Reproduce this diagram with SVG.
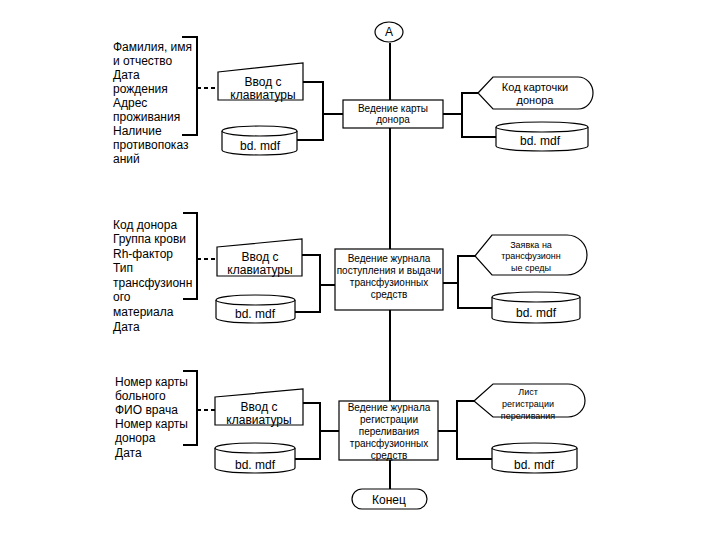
<svg xmlns="http://www.w3.org/2000/svg" width="720" height="540" viewBox="0 0 720 540">
<style>
.sh{fill:#fff;stroke:#000;stroke-width:1.2}
.ln{fill:none;stroke:#000;stroke-width:2}
.ds{fill:none;stroke:#000;stroke-width:2;stroke-dasharray:4,3}
text{font-family:"Liberation Sans",Arial,sans-serif;fill:#000}
.l{font-size:12px}
.c{text-anchor:middle}
.s{font-size:10px}
.m{font-size:12px}
.xs{font-size:9px}
</style>
<rect width="720" height="540" fill="#fff"/>
<g id="connectors">
<path class="ln" d="M390 43V100M390 128V249M390 310V401M390 460V489"/>
<path class="ln" d="M182 37H197V135H182"/>
<path class="ds" d="M197 88H218"/>
<path class="ln" d="M303 82H323V140H297M323 114H345"/>
<path class="ln" d="M443 114H462M478 93H462V137H496"/>
<path class="ln" d="M183 213H197V299H183"/>
<path class="ds" d="M197 259H217"/>
<path class="ln" d="M302 255H320V312H295M320 285H335"/>
<path class="ln" d="M443 283H458M475 256H458V308H492"/>
<path class="ln" d="M183 371H197V445H183"/>
<path class="ds" d="M197 410H215"/>
<path class="ln" d="M303 403H320V459H295M320 431H339"/>
<path class="ln" d="M438 431H457M474 401H457V459H492"/>
</g>
<g id="connA">
<ellipse class="sh" cx="389" cy="32" rx="14" ry="10"/>
<text class="m c" x="389" y="36">A</text>
</g>
<g id="data1">
<text class="l" x="113"><tspan x="113" y="51">Фамилия, имя</tspan><tspan x="113" y="65">и отчество</tspan><tspan x="113" y="79">Дата</tspan><tspan x="113" y="93">рождения</tspan><tspan x="113" y="107">Адрес</tspan><tspan x="113" y="121">проживания</tspan><tspan x="113" y="135">Наличие</tspan><tspan x="113" y="149">противопоказ</tspan><tspan x="113" y="163">аний</tspan></text>
</g>
<g id="input1">
<path class="sh" d="M218 72L303 63V100H218Z"/>
<text class="m c" x="263" y="86">Ввод с</text>
<text class="m c" x="263" y="99">клавиатуры</text>
</g>
<g id="db1">
<path class="sh" d="M222 131V150A37.5 5 0 0 0 297 150V131A37.5 5 0 0 0 222 131Z"/>
<path class="sh" d="M222 131A37.5 5 0 0 0 297 131"/>
<text class="m c" x="260" y="150">bd. mdf</text>
</g>
<g id="proc1">
<rect class="sh" x="343" y="100" width="100" height="28"/>
<text class="s c" x="393" y="112">Ведение карты</text>
<text class="s c" x="393" y="123">донора</text>
</g>
<g id="out1">
<path class="sh" d="M478 93L493 77H578A15 16 0 0 1 578 109H493Z"/>
<text class="s c" x="535" y="91" style="font-size:11px">Код карточки</text>
<text class="s c" x="535" y="104" style="font-size:11px">донора</text>
</g>
<g id="db2">
<path class="sh" d="M496 127V146A46 5 0 0 0 588 146V127A46 5 0 0 0 496 127Z"/>
<path class="sh" d="M496 127A46 5 0 0 0 588 127"/>
<text class="m c" x="540" y="145">bd. mdf</text>
</g>
<g id="data2">
<text class="l"><tspan x="113" y="229">Код донора</tspan><tspan x="113" y="243">Группа крови</tspan><tspan x="113" y="258">Rh-фактор</tspan><tspan x="113" y="272">Тип</tspan><tspan x="113" y="287">трансфузионн</tspan><tspan x="113" y="301">ого</tspan><tspan x="113" y="316">материала</tspan><tspan x="113" y="331">Дата</tspan></text>
</g>
<g id="input2">
<path class="sh" d="M217 247L302 239V276H217Z"/>
<text class="m c" x="260" y="261">Ввод с</text>
<text class="m c" x="260" y="274">клавиатуры</text>
</g>
<g id="db3">
<path class="sh" d="M216 300V318A39.5 5 0 0 0 295 318V300A39.5 5 0 0 0 216 300Z"/>
<path class="sh" d="M216 300A39.5 5 0 0 0 295 300"/>
<text class="m c" x="255" y="318">bd. mdf</text>
</g>
<g id="proc2">
<rect class="sh" x="335" y="249" width="108" height="61"/>
<text class="s c" x="389" y="262">Ведение журнала</text>
<text class="s c" x="389" y="274">поступления и выдачи</text>
<text class="s c" x="389" y="286">трансфузионных</text>
<text class="s c" x="389" y="298">средств</text>
</g>
<g id="out2">
<path class="sh" d="M475 256L492 235H567A20 20 0 0 1 567 275H492Z"/>
<text class="xs c" x="531" y="248">Заявка на</text>
<text class="xs c" x="531" y="259">трансфузионн</text>
<text class="xs c" x="531" y="271">ые среды</text>
</g>
<g id="db4">
<path class="sh" d="M492 297V318A44 5 0 0 0 580 318V297A44 5 0 0 0 492 297Z"/>
<path class="sh" d="M492 297A44 5 0 0 0 580 297"/>
<text class="m c" x="536" y="317">bd. mdf</text>
</g>
<g id="data3">
<text class="l"><tspan x="115" y="386">Номер карты</tspan><tspan x="115" y="400">больного</tspan><tspan x="115" y="414">ФИО врача</tspan><tspan x="115" y="428">Номер карты</tspan><tspan x="115" y="442">донора</tspan><tspan x="115" y="457">Дата</tspan></text>
</g>
<g id="input3">
<path class="sh" d="M215 397L303 389V425H215Z"/>
<text class="m c" x="259" y="411">Ввод с</text>
<text class="m c" x="259" y="424">клавиатуры</text>
</g>
<g id="db5">
<path class="sh" d="M215 448V468A40 5 0 0 0 295 468V448A40 5 0 0 0 215 448Z"/>
<path class="sh" d="M215 448A40 5 0 0 0 295 448"/>
<text class="m c" x="255" y="469">bd. mdf</text>
</g>
<g id="proc3">
<rect class="sh" x="339" y="401" width="99" height="59"/>
<text class="s c" x="389" y="411">Ведение журнала</text>
<text class="s c" x="389" y="423">регистрации</text>
<text class="s c" x="389" y="435">переливания</text>
<text class="s c" x="389" y="447">трансфузионных</text>
<text class="s c" x="389" y="459">средств</text>
</g>
<g id="out3">
<path class="sh" d="M474 401L493 384H568A17 16.5 0 0 1 568 417H493Z"/>
<text class="xs c" x="528" y="395">Лист</text>
<text class="xs c" x="528" y="407">регистрации</text>
<text class="xs c" x="528" y="419">переливания</text>
</g>
<g id="db6">
<path class="sh" d="M492 448V468A42.5 5 0 0 0 577 468V448A42.5 5 0 0 0 492 448Z"/>
<path class="sh" d="M492 448A42.5 5 0 0 0 577 448"/>
<text class="m c" x="534" y="469">bd. mdf</text>
</g>
<g id="end">
<rect class="sh" x="352" y="489" width="75" height="20" rx="10" ry="10"/>
<text class="m c" x="389" y="504">Конец</text>
</g>
</svg>
